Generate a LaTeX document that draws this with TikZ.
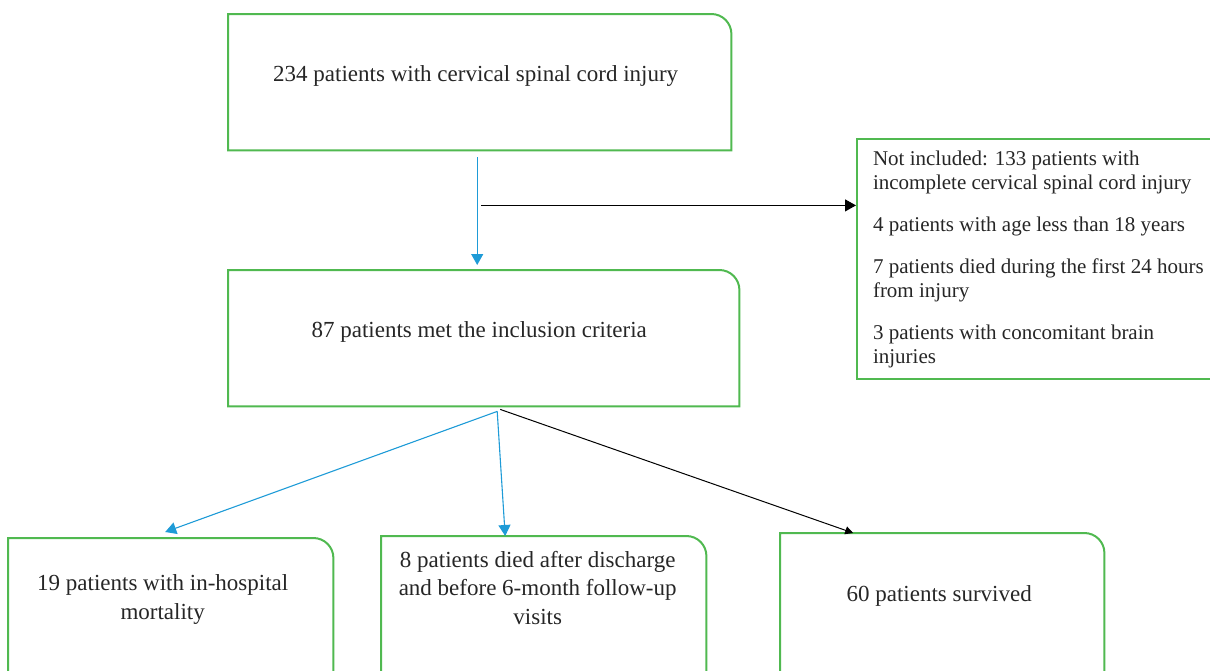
\documentclass[tikz,border=0pt]{standalone}
\usepackage{fontspec}
\setmainfont{Liberation Serif}
\usetikzlibrary{arrows.meta,positioning}
\definecolor{boxgreen}{RGB}{80,185,80}
\definecolor{arrowblue}{RGB}{30,155,215}

% box with the upper right corner rounded
\newcommand{\cornerbox}[1]{%
  \draw[boxgreen, line width=2pt] (#1.south west) -- (#1.north west)
    -- ([xshift=-20pt]#1.north east) arc[start angle=90, end angle=0, radius=20pt]
    -- (#1.south east) -- cycle;}

\begin{document}
\begin{tikzpicture}[x=1pt,y=1pt,>={Triangle[width=12pt,length=11pt]}]
    \tikzstyle{frame}=[inner sep=0pt, anchor=north west]
    \tikzstyle{txt}=[font=\fontsize{23}{28.5}\selectfont, align=center, inner sep=0pt, anchor=base, text=black!85]
    \tikzstyle{bluearrow}=[->, arrowblue, line width=1.1pt]
    \tikzstyle{blackarrow}=[->, black, line width=1pt]
    \useasboundingbox (0,0) rectangle (1210,-670);
    \clip (0,0) rectangle (1210,-670);

    % Boxes
    \node[frame, minimum width=503pt, minimum height=136pt] (total) at (228,-14) {};
    \node[frame, minimum width=511pt, minimum height=136pt] (included) at (228,-270) {};
    \node[frame, minimum width=325pt, minimum height=160pt] (inhosp) at (8,-538) {};
    \node[frame, minimum width=325pt, minimum height=160pt] (afterdis) at (381,-536) {};
    \node[frame, minimum width=324pt, minimum height=160pt] (survived) at (780,-533) {};
    \cornerbox{total}
    \cornerbox{included}
    \cornerbox{inhosp}
    \cornerbox{afterdis}
    \cornerbox{survived}

    % Excluded patients
    \node[draw=boxgreen, line width=2pt, anchor=north west, minimum height=240pt,
        text width=348pt, inner xsep=16pt, align=flush left, text=black!85,
        font=\fontsize{21}{24}\selectfont] (excluded) at (856,-138)
        {Not included: 133 patients with\\incomplete cervical spinal cord injury\\[18pt]
         4 patients with age less than 18 years\\[18pt]
         7 patients died during the first 24 hours\\from injury\\[18pt]
         3 patients with concomitant brain\\injuries};

    % Texts
    \node[txt] (totaltxt) at ([xshift=-4pt,yshift=-67pt]total.north) {234 patients with cervical spinal cord injury};
    \node[txt] (includedtxt) at ([xshift=-4.5pt,yshift=-67pt]included.north) {87 patients met the inclusion criteria};
    \node[txt] (inhosptxt) at ([xshift=-8pt,yshift=-81pt]inhosp.north) {19 patients with in-hospital\\mortality};
    \node[txt] (afterdistxt) at ([xshift=-6pt,yshift=-88pt]afterdis.north) {8 patients died after discharge\\and before 6-month follow-up\\visits};
    \node[txt] (survivedtxt) at ([xshift=-3pt,yshift=-68pt]survived.north) {60 patients survived};

    % Arrows
    \coordinate (split) at ([xshift=1.5pt,yshift=-55pt]total.south);
    \coordinate (fan) at ([xshift=13.5pt,yshift=-5pt]included.south);
    \draw[bluearrow] ([xshift=-2.5pt,yshift=-7pt]total.south) -- ([xshift=-6.5pt,yshift=5pt]included.north);
    \draw[blackarrow] (split) -- (split -| excluded.west);
    \draw[bluearrow] (fan) -- ([xshift=-5.5pt,yshift=6pt]inhosp.north);
    \draw[bluearrow] (fan) -- ([xshift=-38.5pt]afterdis.north);
    \draw[blackarrow, >={Triangle[width=8pt,length=8pt]}] ([xshift=3pt,yshift=2pt]fan) -- ([xshift=-89pt]survived.north);
\end{tikzpicture}
\end{document}
